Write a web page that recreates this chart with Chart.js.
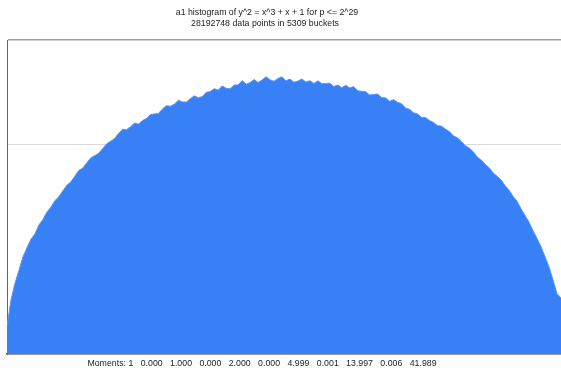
<!DOCTYPE html>
<html>
<head>
<meta charset="utf-8">
<script src="https://cdn.jsdelivr.net/npm/chart.js@4"></script>
<style>
  html, body { margin: 0; padding: 0; background: #fff; }
  #wrap { width: 561px; height: 368px; }
</style>
</head>
<body>
<div id="wrap"><canvas id="histChart" width="561" height="368"></canvas></div>
<script>
const titleLines = [
  "a1 histogram of y^2 = x^3 + x + 1 for p <= 2^29",
  "28192748 data points in 5309 buckets"
];
const momentsText = "Moments: 1   0.000   1.000   0.000   2.000   0.000   4.999   0.001   13.997   0.006   41.989";

// bucket counts (grouped buckets, left to right)
const counts = [
  650,
  1292, 1690, 2000, 2317, 2536, 2742, 2866, 3082, 3211, 3388,
  3507, 3661, 3756, 3896, 4030, 4110, 4244, 4384, 4440, 4565,
  4681, 4737, 4794, 4905, 5021, 5082, 5147, 5269, 5366, 5359,
  5427, 5515, 5492, 5575, 5627, 5720, 5733, 5746, 5853, 5931,
  5919, 5968, 6061, 6020, 6019, 6098, 6167, 6120, 6148, 6251,
  6269, 6338, 6302, 6404, 6346, 6335, 6424, 6428, 6531, 6443,
  6485, 6554, 6486, 6543, 6625, 6547, 6517, 6582, 6622, 6525,
  6568, 6491, 6519, 6569, 6494, 6529, 6462, 6525, 6456, 6463,
  6469, 6389, 6424, 6362, 6420, 6356, 6387, 6288, 6275, 6266,
  6187, 6198, 6209, 6125, 6117, 6039, 6075, 6011, 5978, 5876,
  5844, 5761, 5734, 5651, 5648, 5575, 5532, 5455, 5442, 5374,
  5312, 5210, 5163, 5078, 4976, 4919, 4829, 4703, 4632, 4531,
  4446, 4325, 4244, 4154, 4019, 3909, 3761, 3646, 3464, 3306,
  3144, 2942, 2756, 2560, 2325, 2076, 1770, 1440,
  1340
];
const buckets = counts.map((_, i) => String(i + 1));

const yMax = 7500;
const yGrid = 5000;

// title and moments line, centred like the original (a little left of the plot centre)
const captions = {
  id: "captions",
  afterDraw(chart) {
    const ctx = chart.ctx;
    ctx.save();
    ctx.fillStyle = "#222";
    ctx.textAlign = "center";
    ctx.textBaseline = "middle";
    ctx.font = "8.75px 'Liberation Sans'";
    ctx.fillText(titleLines[0], 267, 12.5);
    ctx.fillText(titleLines[1], 265, 23.5);
    ctx.font = "8.8px 'Liberation Sans'";
    ctx.fillText(momentsText, 262, 364);
    ctx.restore();
  }
};

new Chart(document.getElementById("histChart"), {
  type: "line",
  data: {
    labels: buckets,
    datasets: [{
      data: counts,
      backgroundColor: "#3880f6",
      borderColor: "#5c97f5",
      borderWidth: 1,
      pointRadius: 0,
      tension: 0,
      fill: "origin"
    }]
  },
  options: {
    responsive: false,
    animation: false,
    layout: { padding: { left: 7, right: 0, top: 40, bottom: 14 } },
    plugins: {
      legend: { display: false },
      tooltip: { enabled: false },
      title: { display: false }
    },
    scales: {
      x: {
        offset: false,
        grid: { display: false, drawTicks: false },
        border: { display: true, color: "#555", width: 1.5 },
        ticks: { display: false }
      },
      y: {
        min: 0,
        max: yMax,
        afterBuildTicks: axis => {
          axis.ticks = [{ value: 0 }, { value: yGrid }, { value: yMax }];
        },
        ticks: { display: false },
        grid: {
          drawTicks: false,
          color: ctx => ctx.tick && ctx.tick.value === yMax ? "#a0a0a0" : "#dcdcdc",
          lineWidth: ctx => ctx.tick && ctx.tick.value === yMax ? 1.5 : 1
        },
        border: { display: true, color: "#666", width: 1 }
      }
    }
  },
  plugins: [captions]
});
</script>
</body>
</html>
